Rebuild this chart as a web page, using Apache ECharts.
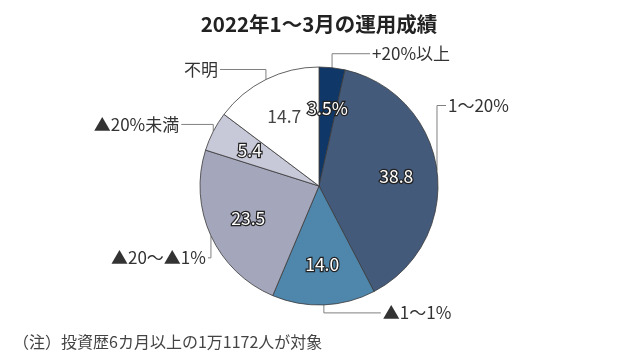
<!DOCTYPE html>
<html>
<head>
<meta charset="utf-8">
<script src="https://cdn.jsdelivr.net/npm/echarts@6/dist/echarts.min.js"></script>
<style>
html,body{margin:0;padding:0;background:#fff;}
#chart{width:638px;height:357px;}
</style>
</head>
<body>
<div id="chart"></div>
<script>
// ---- data ----
var categories = ['+20%以上', '1～20%', '▲1～1%', '▲20～▲1%', '▲20%未満', '不明'];
var values = [3.5, 38.8, 14.0, 23.5, 5.4, 14.7];
var titleText = '2022年1～3月の運用成績';
var noteText = '（注）投資歴6カ月以上の1万1172人が対象';

// ---- styles ----
var colors = ['#0f3767', '#445a7b', '#4f86ab', '#a4a6bb', '#c7c8d8', '#ffffff'];
// label offsets from the slice's outer mid point: [dx to text edge, dy]
var outerOffsets = [[40, -14], [11, -65], [59, 8], [-5, 22], [-34, -7], [-48, -10]];
var FONT = '"Noto Sans CJK JP", "Noto Sans", sans-serif';
var CX = 319, CY = 186, R = 119;

var total = values.reduce(function (a, b) { return a + b; }, 0);
function edgePoint(i) {
  var s = 0;
  for (var k = 0; k < i; k++) s += values[k];
  var mid = (s + values[i] / 2) / total * Math.PI * 2;
  return [CX + R * Math.sin(mid), CY - R * Math.cos(mid)];
}

var chart = echarts.init(document.getElementById('chart'), null, {renderer: 'canvas'});
var pieData = categories.map(function (c, i) {
  return {name: c, value: values[i], itemStyle: {color: colors[i]}};
});
var innerData = categories.map(function (c, i) {
  var plain = i === categories.length - 1;
  return {
    name: c, value: values[i],
    label: plain ? {color: '#444', textBorderWidth: 0} : {}
  };
});

chart.setOption({
  animation: false,
  title: [
    {text: titleText, left: 'center', top: 9,
     textStyle: {fontFamily: FONT, fontSize: 20.5, fontWeight: 'bold', color: '#222'}},
    {text: noteText, left: 8, top: 329,
     textStyle: {fontFamily: FONT, fontSize: 16, fontWeight: 'normal', color: '#444'}}
  ],
  series: [
    {
      type: 'pie',
      center: [CX, CY],
      radius: R,
      startAngle: 90,
      clockwise: true,
      avoidLabelOverlap: false,
      silent: true,
      data: pieData,
      itemStyle: {borderColor: '#3a3a3a', borderWidth: 0.8},
      label: {
        show: true, position: 'outside',
        formatter: '{b}',
        fontFamily: FONT, fontSize: 17, color: '#333'
      },
      labelLine: {show: true, lineStyle: {color: '#808080', width: 1}},
      labelLayout: function (p) {
        var i = p.dataIndex;
        var o = outerOffsets[i];
        var a = edgePoint(i);
        var ly = a[1] + o[1];
        var tx = a[0] + o[0];
        var lineEnd = tx + (o[0] > 0 ? -2 : 2);
        return {
          x: tx, y: ly,
          align: o[0] > 0 ? 'left' : 'right',
          verticalAlign: 'middle',
          labelLinePoints: [a, [a[0], ly], [lineEnd, ly]]
        };
      }
    },
    {
      type: 'pie',
      center: [CX, CY],
      radius: [0, R * 1.26],
      startAngle: 90,
      clockwise: true,
      avoidLabelOverlap: false,
      silent: true,
      z: 5,
      data: innerData,
      itemStyle: {color: 'rgba(0,0,0,0)', borderWidth: 0},
      label: {
        show: true, position: 'inside',
        formatter: function (p) {
          return p.value.toFixed(1) + (p.dataIndex === 0 ? '%' : '');
        },
        fontFamily: FONT, fontSize: 17.5, color: '#fff',
        textBorderColor: '#222', textBorderWidth: 2.5
      },
      labelLine: {show: false}
    }
  ]
});
</script>
</body>
</html>
